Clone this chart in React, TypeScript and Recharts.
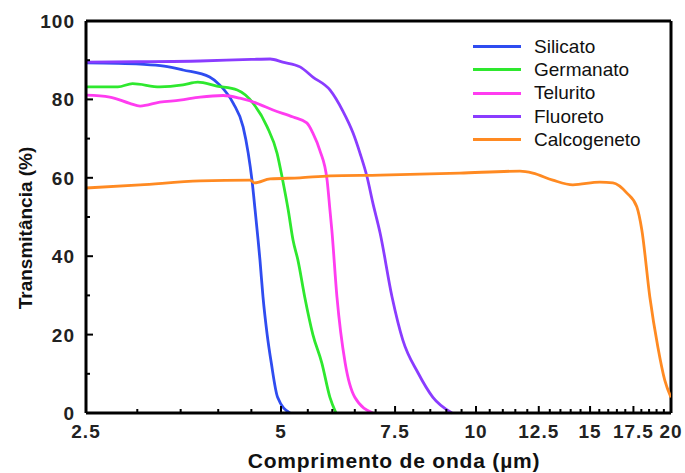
import React from 'react';
import { LineChart, Line, XAxis, YAxis, Legend, ReferenceLine, Label } from 'recharts';

// wavelength (µm) , transmittance (%)
const silicato: [number, number][] = [
  [2.5, 89.3], [2.8, 89.2], [3.03, 89], [3.3, 88.5], [3.53, 87.5], [3.88, 85.7], [4.02, 83.7],
  [4.22, 79], [4.37, 73], [4.45, 66.3], [4.51, 59.4], [4.56, 51.8], [4.61, 44], [4.64, 39],
  [4.69, 29.6], [4.76, 20], [4.83, 12.8], [4.94, 4], [5.16, 0],
];
const germanato: [number, number][] = [
  [2.5, 83.2], [2.8, 83.2], [2.95, 84], [3.25, 83.2], [3.53, 83.7], [3.72, 84.4], [3.98, 83.4],
  [4.28, 82.4], [4.53, 79], [4.76, 73], [4.93, 66.3], [5.03, 59.4], [5.13, 51.8], [5.22, 44],
  [5.31, 39], [5.44, 29.6], [5.6, 20], [5.78, 12.8], [5.95, 4], [6.08, 0],
];
const telurito: [number, number][] = [
  [2.5, 81.1], [2.72, 80.6], [2.92, 79], [3.03, 78.3], [3.25, 79.3], [3.49, 79.8], [3.75, 80.6],
  [4.07, 81], [4.32, 80.3], [4.59, 79], [4.86, 77.3], [5.22, 75.5], [5.48, 74], [5.6, 71.4],
  [5.74, 67], [5.89, 59.4], [5.95, 51.8], [5.99, 46.7], [6.1, 29.6], [6.28, 12.8], [6.5, 4],
  [6.93, 0],
];
const fluoreto: [number, number][] = [
  [2.5, 89.5], [3.0, 89.6], [3.75, 89.8], [4.5, 90.2], [4.81, 90.3], [5.03, 89.5], [5.35, 88.3],
  [5.6, 85.7], [5.95, 82.4], [6.23, 77], [6.46, 71.4], [6.62, 66.3], [6.79, 60.2], [6.93, 53.6],
  [7.11, 46], [7.42, 29.6], [7.71, 18.6], [8.14, 10.2], [8.58, 4], [9.18, 0],
];
const calcogeneto: [number, number][] = [
  [2.5, 57.4], [3.03, 58.2], [3.75, 59.2], [4.48, 59.4], [4.55, 58.7], [4.81, 59.7], [5.35, 60],
  [5.95, 60.5], [7.11, 60.7], [9.44, 61.2], [11.69, 61.7], [12.24, 61.2], [13.14, 59.4],
  [14.11, 58.2], [15.53, 58.9], [16.27, 58.7], [17.1, 56.1], [17.71, 52.6], [18.03, 46.7],
  [18.55, 29.6], [19.09, 16.8], [19.56, 8.4], [20, 4],
];

const xMajor = [2.5, 5, 7.5, 10, 12.5, 15, 17.5, 20];
const xTicks = Array.from({ length: 36 }, (_, i) => 2.5 + i * 0.5);
const yTicks = [0, 10, 20, 30, 40, 50, 60, 70, 80, 90, 100];

const series = [
  { name: 'Silicato', color: '#2f4cf0', points: silicato },
  { name: 'Germanato', color: '#2ee82e', points: germanato },
  { name: 'Telurito', color: '#ff3cf0', points: telurito },
  { name: 'Fluoreto', color: '#8a3cff', points: fluoreto },
  { name: 'Calcogeneto', color: '#ff8a22', points: calcogeneto },
];

const FONT = 'Arial, "Liberation Sans", sans-serif';

const XTick = (props: any) => {
  const { x, y, payload } = props;
  const major = xMajor.includes(payload.value);
  return (
    <g>
      <line x1={x} x2={x} y1={y} y2={y - (major ? 7 : 4)} stroke="#000" strokeWidth={2} />
      {major && (
        <text x={x} y={y + 25} textAnchor="middle" fontSize={19} fontWeight="bold" letterSpacing={1} fill="#222" fontFamily={FONT}>
          {payload.value}
        </text>
      )}
    </g>
  );
};

const YTick = (props: any) => {
  const { x, y, payload } = props;
  const major = payload.value % 20 === 0;
  return (
    <g>
      <line x1={x} x2={x + (major ? 7 : 4)} y1={y} y2={y} stroke="#000" strokeWidth={2} />
      {major && (
        <text x={x - 11} y={y + 7} textAnchor="end" fontSize={19} fontWeight="bold" letterSpacing={1} fill="#222" fontFamily={FONT}>
          {payload.value}
        </text>
      )}
    </g>
  );
};

const renderLegend = () => (
  <div style={{ fontFamily: FONT, fontSize: 19, color: '#111' }}>
    {series.map((s) => (
      <div key={s.name} style={{ display: 'flex', alignItems: 'center', height: 23.3 }}>
        <div style={{ width: 48, height: 3, background: s.color, marginRight: 13 }} />
        <span>{s.name}</span>
      </div>
    ))}
  </div>
);

export default function App() {
  return (
    <div style={{ position: 'absolute', left: 0, top: 0, background: '#fff' }}>
      <LineChart width={685} height={473} margin={{ top: 21, right: 14, left: 0, bottom: 0 }}>
        <XAxis
          type="number"
          dataKey="x"
          scale="log"
          domain={[2.5, 20]}
          allowDataOverflow
          ticks={xTicks}
          interval={0}
          tick={<XTick />}
          tickSize={0}
          tickMargin={0}
          height={60}
          axisLine={{ stroke: '#000', strokeWidth: 3 }}
        >
          <Label
            content={() => (
              <text x={394} y={468} textAnchor="middle" fontSize={21} fontWeight="bold" letterSpacing={0.8} fill="#111" fontFamily={FONT}>
                Comprimento de onda (µm)
              </text>
            )}
          />
        </XAxis>
        <YAxis
          type="number"
          domain={[0, 100]}
          ticks={yTicks}
          interval={0}
          tick={<YTick />}
          tickSize={0}
          tickMargin={0}
          width={86}
          axisLine={{ stroke: '#000', strokeWidth: 3 }}
        >
          <Label
            content={() => (
              <text
                x={32}
                y={228}
                transform="rotate(-90 32 228)"
                textAnchor="middle"
                fontSize={19}
                fontWeight="bold"
                fill="#111"
                fontFamily={FONT}
              >
                Transmitância (%)
              </text>
            )}
          />
        </YAxis>
        <ReferenceLine y={100} stroke="#000" strokeWidth={3} />
        <ReferenceLine x={20} stroke="#000" strokeWidth={3} />
        {series.map((s) => (
          <Line
            key={s.name}
            name={s.name}
            data={s.points.map(([x, y]) => ({ x, y }))}
            dataKey="y"
            type="monotone"
            stroke={s.color}
            strokeWidth={2.8}
            dot={false}
            isAnimationActive={false}
          />
        ))}
        <Legend
          content={renderLegend}
          layout="vertical"
          align="center"
          verticalAlign="middle"
          wrapperStyle={{ left: 473, top: 35, width: 'auto' }}
        />
      </LineChart>
    </div>
  );
}
